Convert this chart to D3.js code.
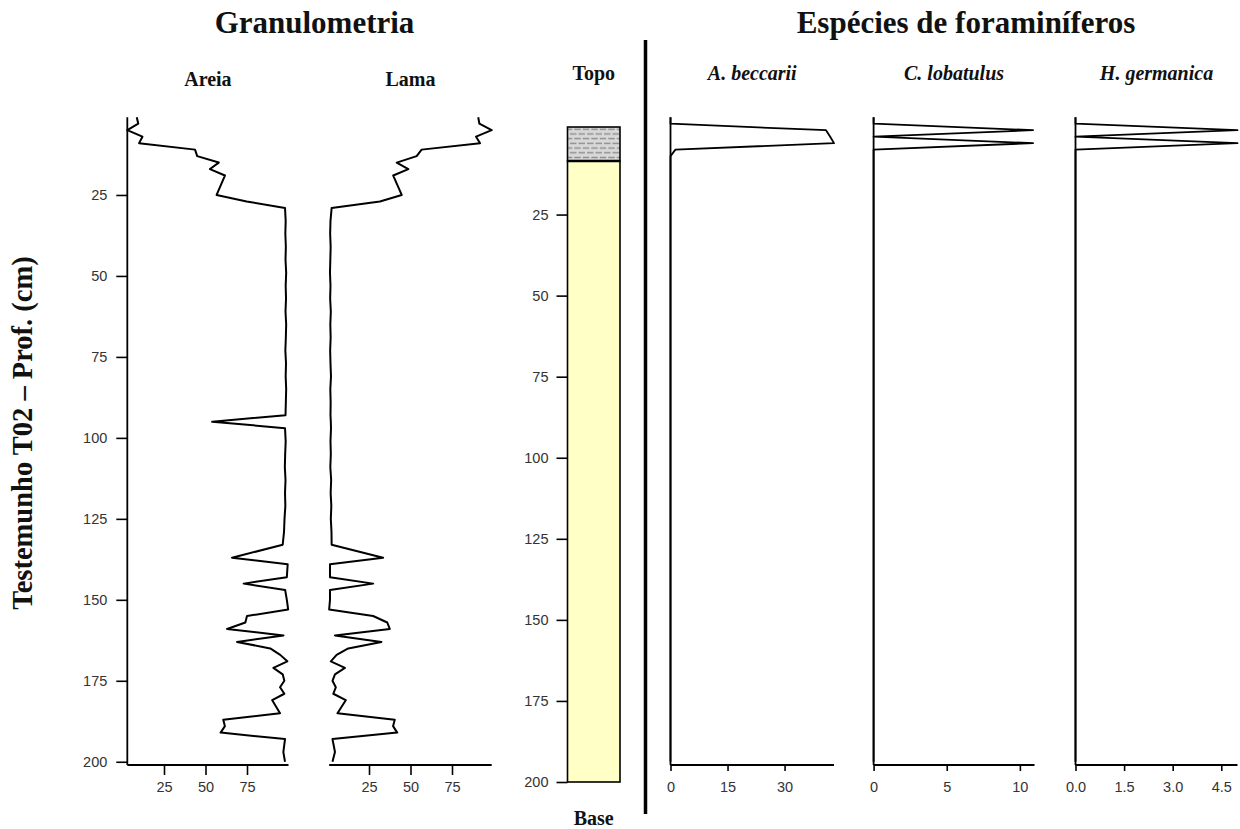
<!DOCTYPE html>
<html>
<head>
<meta charset="utf-8">
<script src="https://cdn.jsdelivr.net/npm/d3@7"></script>
<style>
  body { margin: 0; background: #fff; }
  svg { display: block; }
</style>
</head>
<body>
<script>
// ---- Grain size (core T02): sample depth (cm), sand % and mud % ----
const sedDepth = [1, 3, 5, 7, 9, 11, 13, 15, 17, 19, 25, 27, 29, 33, 37, 41, 45, 49, 53, 57,
  61, 65, 69, 73, 77, 81, 85, 89, 93, 95, 97, 101, 105, 109, 113, 117, 121, 125, 129, 133,
  137, 139, 143, 145, 147, 150, 153, 155, 157, 159, 161, 163, 165, 167, 169, 171, 173, 175,
  177, 179, 181, 185, 187, 189, 191, 193, 197, 200];
const areia = [8.6, 9.5, 2.9, 12, 10, 43.7, 45, 58, 52.7, 61.7, 56.7, 74.8, 97.9, 98.3, 98.1, 98.4, 98.2, 98.6, 98.3, 98.5,
  98.2, 98.6, 98.4, 98.1, 98.5, 98.3, 98.6, 98.4, 98.2, 54, 97.9, 98.3, 98.0, 97.8, 98.2, 97.9, 98.1, 97.6, 97.3, 96.5,
  66, 99.5, 99, 73, 98, 99, 99.8, 75, 74, 63, 97, 69, 89, 95, 99.3, 90.9, 96.5, 97.5,
  94.9, 97.5, 90.2, 94.9, 60.7, 61.7, 59.1, 97.9, 96.9, 97.9];
const lama = [90.8, 91.5, 98.9, 89.5, 91.9, 56.7, 53.7, 41.7, 48.7, 39.6, 44.7, 31.6, 2.5, 1.8, 1.6, 1.9, 1.7, 1.5, 1.8, 1.6,
  2.0, 1.7, 1.9, 1.6, 1.8, 2.1, 1.7, 1.9, 1.8, 2.0, 2.1, 1.8, 2.0, 1.7, 2.2, 1.9, 2.3, 2.0, 2.4, 2.5,
  33.5, 1.5, 1.5, 27.5, 1.5, 1.5, 1.0, 27.5, 36, 37.5, 4.5, 32.5, 12.5, 5.5, 2, 10.5, 4.5, 3,
  5, 3.5, 11, 6, 40.5, 39.5, 42, 3, 4.5, 3];
const grainTicks = [25, 50, 75];
const depthTicks = [25, 50, 75, 100, 125, 150, 175, 200];

// ---- Lithology column: layer top / base (cm) and type ----
const lithTop = [-2, 8.5];
const lithBase = [8.5, 200];
const lithType = ["lama", "areia"];

// ---- Foraminifera counts ----
const foramDepth = [1, 3, 5, 7, 9, 11, 13, 200];
const beccarii = [0, 0, 40.9, 42, 43, 1.3, 0, 0];
const lobatulus = [0, 0, 10.9, 0, 10.9, 0, 0, 0];
const germanica = [0, 0, 5, 0, 5, 0, 0, 0];
const beccariiTicks = [0, 15, 30];
const lobatulusTicks = [0, 5, 10];
const germanicaTicks = [0, 1.5, 3, 4.5];

const W = 1240, H = 829;
const serif = "'Liberation Serif', 'Times New Roman', serif";
const sans = "'Liberation Sans', Arial, sans-serif";

const svg = d3.select("body").append("svg").attr("width", W).attr("height", H);

// pattern for the muddy top layer
const defs = svg.append("defs");
const pat = defs.append("pattern").attr("id", "mudPattern")
  .attr("patternUnits", "userSpaceOnUse").attr("width", 17).attr("height", 9.4);
pat.append("rect").attr("width", 17).attr("height", 9.4).attr("fill", "#d9d9d9");
[[0.5, 7, 2.35], [9, 15.5, 2.35], [4.75, 11.25, 7.05], [13.25, 17, 7.05], [0, 2.75, 7.05]]
  .forEach(([a, b, y]) => pat.append("line").attr("x1", a).attr("x2", b).attr("y1", y).attr("y2", y)
    .attr("stroke", "#8c8c8c").attr("stroke-width", 1.4));

// shared depth scale for the sample panels
const yData = d3.scaleLinear().domain([0, 201]).range([114, 765]);
const axisY = yData(201);

function styleTicks(g, size) {
  g.selectAll("text").attr("font-family", sans).attr("font-size", size || 14.5).attr("fill", "#333");
  g.selectAll("line").attr("stroke", "#000").attr("stroke-width", 1.6);
}

function profile(xScale, depths, values, ticks, opts) {
  const g = svg.append("g");
  const line = d3.line().x((d, i) => xScale(values[i])).y(d => yData(d));
  g.append("path").datum(depths).attr("d", line)
    .attr("fill", "none").attr("stroke", "#000").attr("stroke-width", opts.lw || 2)
    .attr("stroke-linejoin", "round");
  // bottom axis
  const ax = g.append("g").attr("transform", `translate(0,${axisY})`)
    .call(d3.axisBottom(xScale).tickValues(ticks).tickSize(opts.tickSize)
      .tickPadding(opts.tickPadding).tickSizeOuter(0).tickFormat(opts.fmt || d3.format("")));
  ax.select(".domain").remove();
  styleTicks(ax);
  const x0 = xScale(opts.axisFrom), x1 = xScale(opts.axisTo);
  g.append("line").attr("x1", x0).attr("x2", x1).attr("y1", axisY).attr("y2", axisY)
    .attr("stroke", "#000").attr("stroke-width", 1.8);
  if (opts.yAxis) {
    g.append("line").attr("x1", x0).attr("x2", x0)
      .attr("y1", yData(depths[0])).attr("y2", axisY)
      .attr("stroke", "#000").attr("stroke-width", 1.8);
  }
  return g;
}

// ---- Granulometria ----
const xAreia = d3.scaleLinear().domain([0, 100]).range([122.5, 288.5]);
const xLama = d3.scaleLinear().domain([0, 100]).range([327.5, 493.5]);

profile(xAreia, sedDepth, areia, grainTicks,
  { tickSize: 10, tickPadding: 7, axisFrom: d3.min(areia), axisTo: 100, yAxis: true });
profile(xLama, sedDepth, lama, grainTicks,
  { tickSize: 10, tickPadding: 7, axisFrom: d3.min(lama), axisTo: d3.max(lama), yAxis: false });

// depth axis for the grain-size panel
const yAx = svg.append("g").attr("transform", `translate(${xAreia(d3.min(areia))},0)`)
  .call(d3.axisLeft(yData).tickValues(depthTicks).tickSize(11).tickPadding(9).tickSizeOuter(0));
yAx.select(".domain").remove();
styleTicks(yAx);

// ---- Lithology ----
const yLith = d3.scaleLinear().domain([0, 200]).range([133.5, 782]);
const colX0 = 567.5, colX1 = 620;
const lith = svg.append("g");
lithTop.forEach((t, i) => {
  lith.append("rect").attr("x", colX0).attr("y", yLith(t))
    .attr("width", colX1 - colX0).attr("height", yLith(lithBase[i]) - yLith(t))
    .attr("fill", lithType[i] === "lama" ? "url(#mudPattern)" : "#ffffc6")
    .attr("stroke", "#000").attr("stroke-width", 1.6);
});
lith.append("line").attr("x1", colX0).attr("x2", colX1)
  .attr("y1", yLith(lithBase[0])).attr("y2", yLith(lithBase[0]))
  .attr("stroke", "#000").attr("stroke-width", 2.5);
const lAx = svg.append("g").attr("transform", `translate(${colX0},0)`)
  .call(d3.axisLeft(yLith).tickValues(depthTicks).tickSize(11).tickPadding(8).tickSizeOuter(0));
lAx.select(".domain").remove();
styleTicks(lAx);

// ---- Foraminifera ----
const xBecc = d3.scaleLinear().domain([0, 43]).range([670.5, 834]);
const xLob = d3.scaleLinear().domain([0, 11]).range([873.6, 1034.5]);
const xGerm = d3.scaleLinear().domain([0, 5]).range([1075.5, 1237.5]);

profile(xBecc, foramDepth, beccarii, beccariiTicks,
  { tickSize: 6, tickPadding: 11, axisFrom: 0, axisTo: 43, yAxis: true, lw: 1.8 });
profile(xLob, foramDepth, lobatulus, lobatulusTicks,
  { tickSize: 6, tickPadding: 11, axisFrom: 0, axisTo: 11, yAxis: true, lw: 1.8 });
profile(xGerm, foramDepth, germanica, germanicaTicks,
  { tickSize: 6, tickPadding: 11, axisFrom: 0, axisTo: 5, yAxis: true, lw: 1.8, fmt: d3.format(".1f") });

// divider between the two blocks
svg.append("line").attr("x1", 645.5).attr("x2", 645.5).attr("y1", 40).attr("y2", 814)
  .attr("stroke", "#000").attr("stroke-width", 3.5);

// ---- Titles and labels ----
function label(x, y, txt, size, italic) {
  return svg.append("text").attr("x", x).attr("y", y).attr("text-anchor", "middle")
    .attr("font-family", serif).attr("font-weight", "bold")
    .attr("font-style", italic ? "italic" : "normal")
    .attr("font-size", size).attr("fill", "#111").text(txt);
}
label(314.5, 33, "Granulometria", 31);
label(966, 33, "Espécies de foraminíferos", 31);
label((xAreia(d3.min(areia)) + xAreia(100)) / 2, 86, "Areia", 20);
label((xLama(d3.min(lama)) + xLama(d3.max(lama))) / 2, 86, "Lama", 20);
label((colX0 + colX1) / 2, 80, "Topo", 20);
label((colX0 + colX1) / 2, 825, "Base", 20);
label((xBecc.range()[0] + xBecc.range()[1]) / 2, 80, "A. beccarii", 20, true);
label((xLob.range()[0] + xLob.range()[1]) / 2, 80, "C. lobatulus", 20, true);
label((xGerm.range()[0] + xGerm.range()[1]) / 2, 80, "H. germanica", 20, true);

svg.append("text").attr("transform", "translate(32,433) rotate(-90)")
  .attr("text-anchor", "middle").attr("font-family", serif).attr("font-weight", "bold")
  .attr("font-size", 28.5).attr("fill", "#111").text("Testemunho T02 – Prof. (cm)");
</script>
</body>
</html>
